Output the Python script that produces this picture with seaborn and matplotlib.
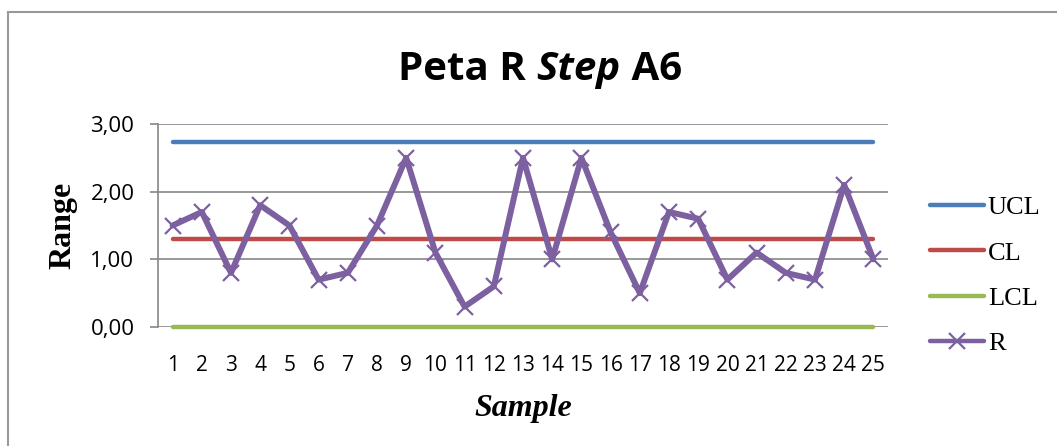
import matplotlib
matplotlib.use("Agg")
import matplotlib.pyplot as plt
import seaborn as sns
import pandas as pd
from matplotlib.patches import Rectangle
from matplotlib.lines import Line2D
from matplotlib.ticker import FuncFormatter

samples = list(range(1, 26))
r_values = [1.5, 1.7, 0.8, 1.8, 1.5, 0.7, 0.8, 1.5, 2.5, 1.1, 0.3, 0.6, 2.5,
            1.0, 2.5, 1.4, 0.5, 1.7, 1.6, 0.7, 1.1, 0.8, 0.7, 2.1, 1.0]
ucl_value = 2.74
cl_value = 1.296
lcl_value = 0.0
y_ticks = [0, 1, 2, 3]

sns.set_theme(style="white")
plt.rcParams['font.family'] = ['Open Sans', 'DejaVu Sans']
plt.rcParams['text.color'] = 'black'

df = pd.DataFrame({
    "Sample": samples * 4,
    "value": [ucl_value] * 25 + [cl_value] * 25 + [lcl_value] * 25 + r_values,
    "series": ["UCL"] * 25 + ["CL"] * 25 + ["LCL"] * 25 + ["R"] * 25,
})

colors = {"UCL": "#4A7EBB", "CL": "#BE4B48", "LCL": "#98B954", "R": "#7D60A0"}

fig = plt.figure(figsize=(10.57, 4.46), dpi=100)
ax = fig.add_axes([158 / 1057, 1 - 327 / 446, (888 - 158) / 1057, (327 - 124) / 446])

for name in ["UCL", "CL", "LCL"]:
    sub = df[df.series == name]
    sns.lineplot(data=sub, x="Sample", y="value", ax=ax, color=colors[name],
                 linewidth=3.2, solid_capstyle="round", legend=False, zorder=3)
sub = df[df.series == "R"]
sns.lineplot(data=sub, x="Sample", y="value", ax=ax, color=colors["R"],
             linewidth=4.3, marker="x", markersize=11, markeredgewidth=1.6,
             markeredgecolor=colors["R"], legend=False, zorder=4)

ax.set_xlim(0.5, 25.5)
ax.set_ylim(0, 3)
ax.set_yticks(y_ticks)
ax.yaxis.set_major_formatter(FuncFormatter(lambda v, p: f"{v:.2f}".replace(".", ",")))
ax.set_xticks(samples)
ax.grid(axis="y", color="#868686", linewidth=1.2, zorder=0)
ax.grid(axis="x", visible=False)
for s in ["top", "right", "bottom"]:
    ax.spines[s].set_visible(False)
ax.spines["left"].set_color("#868686")
ax.spines["left"].set_linewidth(1.2)
ax.tick_params(axis="y", which="major", direction="out", length=6, width=1.2,
               color="#868686", left=True, labelsize=16, pad=11, labelcolor="black")
ax.tick_params(axis="x", length=0, labelsize=15, pad=20, labelcolor="black")
ax.set_xlabel("Sample", fontfamily="Liberation Serif", fontweight="bold",
              fontstyle="italic", fontsize=23, labelpad=13, color="black")
ax.set_ylabel("Range", fontfamily="Liberation Serif", fontweight="bold",
              fontsize=23, labelpad=9, color="black")
for ln in ax.lines:
    ln.set_clip_on(False)

handles = [Line2D([], [], color=colors["UCL"], lw=3.2, solid_capstyle="round"),
           Line2D([], [], color=colors["CL"], lw=3.2, solid_capstyle="round"),
           Line2D([], [], color=colors["LCL"], lw=3.2, solid_capstyle="round"),
           Line2D([], [], color=colors["R"], lw=3.2, marker="x", markersize=11,
                  markeredgewidth=1.6, solid_capstyle="round")]
leg = fig.legend(handles, ["UCL", "CL", "LCL", "R"], loc="upper left",
                 bbox_to_anchor=(906 / 1057, 1 - 172 / 446), frameon=False,
                 prop={"family": "Liberation Serif", "size": 19},
                 handlelength=2.05, handletextpad=0.15, labelspacing=0.83)

# title with italic middle word
fig.canvas.draw()
renderer = fig.canvas.get_renderer()
parts = [("Peta R ", "normal"), ("Step", "italic"), (" A6", "normal")]
tmp = []
total = 0
for txt, st in parts:
    t = fig.text(0, 0, txt, fontsize=29, fontweight="bold", fontstyle=st,
                 fontfamily="Open Sans", color="black")
    w = t.get_window_extent(renderer).width
    tmp.append((t, w))
    total += w
x0 = 540 - total / 2
for t, w in tmp:
    t.set_position((x0 / 1057, 1 - 80 / 446))
    x0 += w

fig.patches.append(Rectangle((8 / 1057, -0.05), 1.2, 1 - 12 / 446 + 0.05,
                             transform=fig.transFigure, fill=False,
                             edgecolor="#999999", linewidth=1.5, zorder=10))

fig.savefig("out.png", dpi=100)
